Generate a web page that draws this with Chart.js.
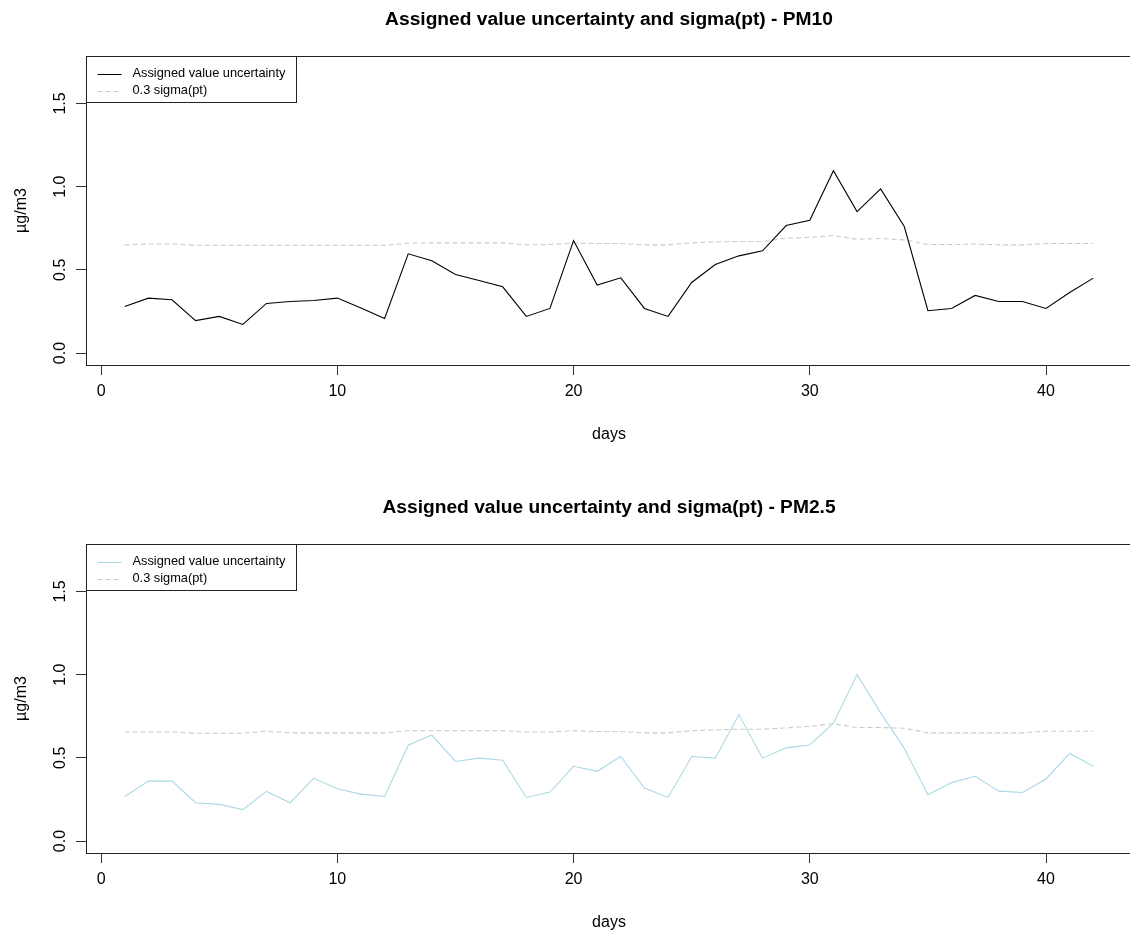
<!DOCTYPE html>
<html>
<head>
<meta charset="utf-8">
<script src="https://cdn.jsdelivr.net/npm/chart.js@4"></script>
<style>
  html, body { margin: 0; padding: 0; background: #fff; overflow: hidden; width: 1130px; height: 932px; }
  .panel { position: absolute; left: 0; width: 1134px; height: 488px; }
</style>
</head>
<body>
<div class="panel" style="top:0"><canvas id="chartPM10" width="1134" height="488"></canvas></div>
<div class="panel" style="top:488px"><canvas id="chartPM25" width="1134" height="488"></canvas></div>
<script>
// ----------- DATA ----------- //
const days = [1, 2, 3, 4, 5, 6, 7, 8, 9, 10, 11, 12, 13, 14, 15, 16, 17, 18, 19, 20, 21,
  22, 23, 24, 25, 26, 27, 28, 29, 30, 31, 32, 33, 34, 35, 36, 37, 38, 39, 40, 41, 42];

const pm10Uncertainty = [0.28, 0.33, 0.32, 0.195, 0.22, 0.172, 0.298, 0.31, 0.316, 0.33, 0.27,
  0.208, 0.596, 0.554, 0.472, 0.436, 0.398, 0.22, 0.268, 0.676, 0.408, 0.452, 0.268, 0.22,
  0.424, 0.532, 0.584, 0.614, 0.766, 0.798, 1.096, 0.85, 0.986, 0.76, 0.254, 0.268, 0.346,
  0.31, 0.31, 0.268, 0.364, 0.45];
const pm10Sigma = [0.65, 0.655, 0.655, 0.648, 0.648, 0.648, 0.648, 0.648, 0.648, 0.648, 0.648,
  0.648, 0.66, 0.662, 0.662, 0.662, 0.662, 0.65, 0.652, 0.66, 0.658, 0.658, 0.65, 0.65,
  0.662, 0.668, 0.67, 0.67, 0.69, 0.695, 0.706, 0.684, 0.688, 0.68, 0.652, 0.652, 0.655,
  0.65, 0.65, 0.658, 0.658, 0.658];

const pm25Uncertainty = [0.268, 0.36, 0.36, 0.23, 0.22, 0.189, 0.298, 0.23, 0.377, 0.314, 0.282,
  0.268, 0.576, 0.637, 0.478, 0.498, 0.486, 0.262, 0.294, 0.449, 0.419, 0.508, 0.318, 0.262,
  0.508, 0.498, 0.76, 0.498, 0.56, 0.577, 0.708, 1.0, 0.77, 0.557, 0.278, 0.351, 0.389,
  0.3, 0.292, 0.373, 0.526, 0.449];
const pm25Sigma = [0.655, 0.655, 0.655, 0.648, 0.648, 0.648, 0.66, 0.65, 0.65, 0.65, 0.65,
  0.65, 0.663, 0.663, 0.663, 0.663, 0.663, 0.655, 0.655, 0.663, 0.658, 0.658, 0.65, 0.65,
  0.663, 0.668, 0.672, 0.672, 0.68, 0.69, 0.705, 0.682, 0.682, 0.678, 0.65, 0.65, 0.65,
  0.65, 0.65, 0.66, 0.66, 0.66];

const xTicks = [0, 10, 20, 30, 40];
const yTicks = [0, 0.5, 1.0, 1.5];

const FONT = "'Liberation Sans', Arial, sans-serif";

// ----------- PLUGINS ----------- //

// R style box around the plot region
const boxPlugin = {
  id: "rBox",
  afterDraw(chart) {
    const { ctx, chartArea: a } = chart;
    ctx.save();
    ctx.strokeStyle = "#222";
    ctx.lineWidth = 1;
    ctx.strokeRect(Math.round(a.left) + 0.5, Math.round(a.top) + 0.5,
      Math.round(a.right - a.left), Math.round(a.bottom - a.top));
    ctx.restore();
  },
};

// R style legend in the top-left corner
const legendPlugin = {
  id: "rLegend",
  afterDraw(chart) {
    const { ctx, chartArea: a } = chart;
    const x0 = Math.round(a.left) + 0.5;
    const y0 = Math.round(a.top) + 0.5;
    ctx.save();
    ctx.strokeStyle = "#222";
    ctx.lineWidth = 1;
    ctx.strokeRect(x0, y0, 210, 46);
    ctx.font = `12.8px ${FONT}`;
    ctx.textBaseline = "middle";
    ctx.fillStyle = "#000";
    chart.data.datasets.forEach((ds, i) => {
      const y = y0 + 17 + i * 17;
      ctx.beginPath();
      ctx.setLineDash(ds.borderDash || []);
      ctx.strokeStyle = ds.borderColor;
      ctx.moveTo(x0 + 11, Math.round(y) + 0.5);
      ctx.lineTo(x0 + 35, Math.round(y) + 0.5);
      ctx.stroke();
      ctx.setLineDash([]);
      ctx.fillText(ds.label, x0 + 46, y);
    });
    ctx.restore();
  },
};

// ----------- CHART BUILDER ----------- //

function toPoints(values) {
  return days.map((d, i) => ({ x: d, y: values[i] }));
}

function makeChart(canvasId, title, uncertainty, sigma, color) {
  return new Chart(document.getElementById(canvasId), {
    type: "line",
    data: {
      datasets: [
        {
          label: "Assigned value uncertainty",
          data: toPoints(uncertainty),
          borderColor: color,
          borderWidth: 1.1,
          pointRadius: 0,
          tension: 0,
        },
        {
          label: "0.3 sigma(pt)",
          data: toPoints(sigma),
          borderColor: "#cccccc",
          borderWidth: 1.1,
          borderDash: [5, 3],
          pointRadius: 0,
          tension: 0,
        },
      ],
    },
    options: {
      responsive: false,
      animation: false,
      devicePixelRatio: 1,
      layout: { padding: { left: 0, right: 2, top: 0, bottom: 0 } },
      plugins: {
        legend: { display: false },
        tooltip: { enabled: false },
        title: {
          display: true,
          text: title,
          fullSize: false,
          color: "#000",
          font: { family: FONT, size: 19.2, weight: "bold" },
          padding: { top: 8.5, bottom: 24.46 },
        },
      },
      scales: {
        x: {
          type: "linear",
          min: -0.64,
          max: 43.64,
          afterFit(scale) { scale.height = 488 - 365; },
          afterBuildTicks(scale) { scale.ticks = xTicks.map((v) => ({ value: v })); },
          border: { display: false },
          grid: { drawOnChartArea: false, drawTicks: true, tickLength: 10, color: "#333", tickColor: "#333" },
          ticks: {
            color: "#000",
            padding: 7.4,
            maxRotation: 0,
            font: { family: FONT, size: 16 },
          },
          title: {
            display: true,
            text: "days",
            color: "#000",
            font: { family: FONT, size: 16 },
            padding: { top: 0, bottom: 43.4 },
          },
        },
        y: {
          type: "linear",
          min: -0.072,
          max: 1.785,
          afterFit(scale) { scale.width = 86; },
          afterBuildTicks(scale) { scale.ticks = yTicks.map((v) => ({ value: v })); },
          border: { display: false },
          grid: { drawOnChartArea: false, drawTicks: true, tickLength: 10, color: "#333", tickColor: "#333" },
          ticks: {
            color: "#000",
            padding: 4,
            minRotation: 90,
            maxRotation: 90,
            crossAlign: "center",
            font: { family: FONT, size: 16 },
            callback: (v) => Number(v).toFixed(1),
          },
          title: {
            display: true,
            text: "µg/m3",
            color: "#000",
            font: { family: FONT, size: 16 },
            padding: { top: 12, bottom: 0 },
          },
        },
      },
    },
    plugins: [boxPlugin, legendPlugin],
  });
}

makeChart("chartPM10", "Assigned value uncertainty and sigma(pt) - PM10", pm10Uncertainty, pm10Sigma, "#000000");
makeChart("chartPM25", "Assigned value uncertainty and sigma(pt) - PM2.5", pm25Uncertainty, pm25Sigma, "#add8e6");
</script>
</body>
</html>
